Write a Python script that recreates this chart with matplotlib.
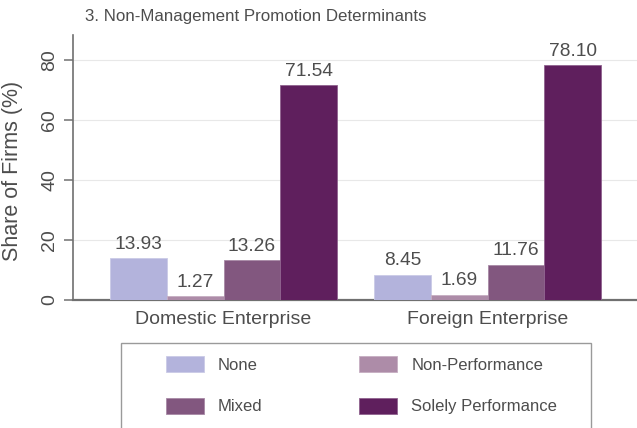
import matplotlib
matplotlib.use("Agg")
import matplotlib.pyplot as plt
import matplotlib.colors as mcolors
from matplotlib.patches import Rectangle
import numpy as np

plt.rcParams['font.family'] = ['Liberation Sans', 'DejaVu Sans']

title = "3. Non-Management Promotion Determinants"
groups = ["Domestic Enterprise", "Foreign Enterprise"]
series = ["None", "Non-Performance", "Mixed", "Solely Performance"]
values = {
    "None": [13.93, 8.45],
    "Non-Performance": [1.27, 1.69],
    "Mixed": [13.26, 11.76],
    "Solely Performance": [71.54, 78.10],
}
colors = ["#b3b3dc", "#ad8ca8", "#82577f", "#5f1f5d"]
yticks = [0, 20, 40, 60, 80]
ylabel = "Share of Firms (%)"

W, H = 637, 428
fig = plt.figure(figsize=(W / 100, H / 100), dpi=100)
ax = fig.add_axes([73 / W, 1 - 300 / H, (637 - 73) / W, (300 - 35) / H])

txt = "#4d4d4d"
axc = "#707070"
bw = 0.215
x = np.arange(len(groups))
handles = []
for i, (s, c) in enumerate(zip(series, colors)):
    offs = (i - 1.5) * bw
    edge = mcolors.to_hex(0.7 * np.array(mcolors.to_rgb(c)) + 0.3 * np.ones(3))
    b = ax.bar(x + offs, values[s], width=bw, color=c, edgecolor=edge,
               linewidth=0.6, label=s, zorder=3)
    handles.append(b)
    for xi, v in zip(x + offs, values[s]):
        ax.annotate(f"{v:.2f}", (xi, v), xytext=(0, 4), textcoords="offset points",
                    ha="center", va="bottom", fontsize=13.8, color=txt)

ax.set_xlim(-0.570, 1.566)
ax.set_ylim(0, 88.2)
ax.set_yticks(yticks)
ax.set_yticklabels([str(t) for t in yticks], rotation=90, va="center",
                   fontsize=14, color=txt)
ax.set_xticks(x)
ax.set_xticklabels(groups, fontsize=14, color=txt)
ax.tick_params(axis="x", length=0, pad=8)
ax.tick_params(axis="y", length=6.5, width=1.1, color=axc, pad=4)
ax.set_ylabel(ylabel, fontsize=15.5, color=txt, labelpad=6)
ax.yaxis.set_label_coords(-(73 - 23) / (637 - 73), 1 - (171 - 35) / (300 - 35))
for sp in ["top", "right"]:
    ax.spines[sp].set_visible(False)
ax.spines["left"].set_color(axc)
ax.spines["left"].set_linewidth(1.2)
ax.spines["bottom"].set_color(axc)
ax.spines["bottom"].set_linewidth(1.6)
ax.grid(axis="y", color="#e8e8e8", linewidth=0.8, zorder=0)
ax.set_axisbelow(True)

fig.text(85 / W, 1 - 17 / H, title, fontsize=12.2, color=txt, va="center", ha="left")

# legend frame
fig.patches.append(Rectangle((121 / W, -0.1), (591 - 121) / W, (1 - 343 / H) + 0.1,
                             transform=fig.transFigure, facecolor="white",
                             edgecolor="#9a9a9a", linewidth=1.0, zorder=0))
order = [0, 2, 1, 3]  # row-major arrangement in a 2-column legend
leg = fig.legend(handles=[handles[k] for k in order],
                 labels=[series[k] for k in order], ncol=2, loc="upper left",
                 bbox_to_anchor=(166 / W, 1 - 356 / H), frameon=False,
                 fontsize=12, handlelength=2.28, handleheight=1.14,
                 handletextpad=0.84, labelspacing=1.48, columnspacing=5.8,
                 borderpad=0, borderaxespad=0)
for t in leg.get_texts():
    t.set_color(txt)

fig.savefig("out.png", dpi=100)
